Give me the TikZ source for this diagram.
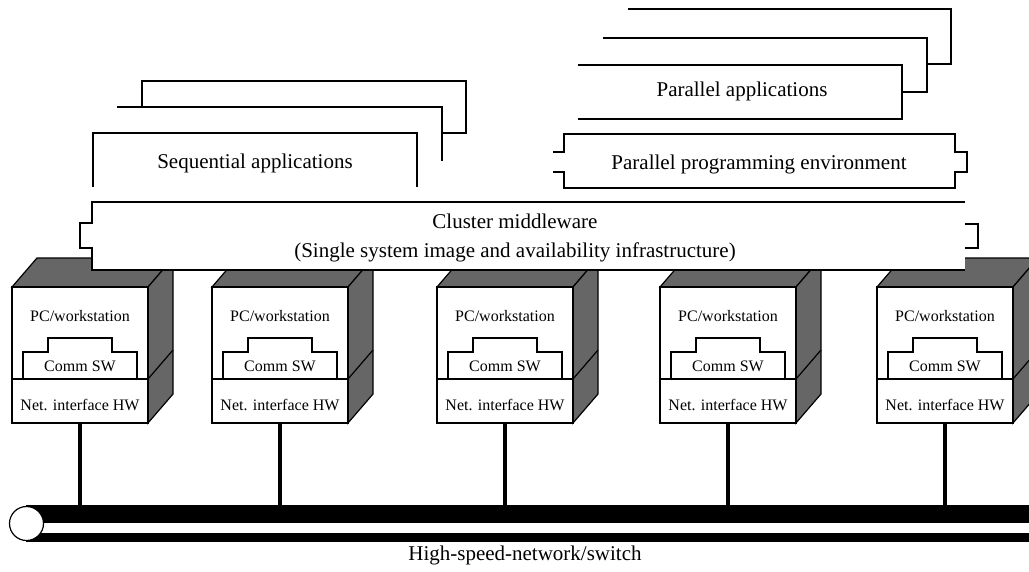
\documentclass[tikz,border=0pt]{standalone}
\usepackage{fontspec}
\setmainfont{Liberation Serif}
\definecolor{facegray}{gray}{0.4}
\begin{document}
\begin{tikzpicture}[x=1pt,y=-1pt,line join=miter,
  outline/.style={draw=black,line width=1.2pt},
  face/.style={outline,fill=facegray},
  big/.style={font=\fontsize{21}{24}\selectfont,inner sep=0pt},
  small/.style={font=\fontsize{16}{18}\selectfont,inner sep=0pt},
  conn/.style={draw=black,line width=3.5pt},
  frontbox/.style={outline,fill=white,minimum width=136pt,minimum height=136pt,inner sep=0pt}]
\clip (0,0) rectangle (1029,571);
% sequential applications stack
\draw[outline] (142,107) -- (142,81) -- (466,81) -- (466,133) -- (442,133);
\draw[outline] (117,107) -- (442,107) -- (442,161);
\draw[outline] (93,187) -- (93,133) -- (417,133) -- (417,187);
\node[big] (seq) at (255,163) {Sequential applications};
% parallel applications stack
\draw[outline] (628,9) -- (951,9) -- (951,64) -- (927,64);
\draw[outline] (603,38) -- (927,38) -- (927,92) -- (902,92);
\draw[outline] (578,65) -- (902,65) -- (902,119) -- (578,119);
\node[big] (par) at (742,91) {Parallel applications};
% parallel programming environment
\draw[outline] (553,152) -- (564,152) -- (564,134) -- (955,134) -- (955,152) -- (967,152)
  -- (967,172) -- (955,172) -- (955,188) -- (564,188) -- (564,172) -- (553,172);
\node[big] (ppe) at (759,164) {Parallel programming environment};
% shaded faces of the computers
\foreach \cx in {80,280,505,728,945} {
  \pgfmathsetmacro\xa{\cx-68}
  \pgfmathsetmacro\xb{\cx+68}
  \filldraw[face] (\xa,287) -- (\xa+25,258) -- (\xb+25,258) -- (\xb,287) -- cycle;
  \filldraw[face] (\xb,287) -- (\xb+25,258) -- (\xb+25,394) -- (\xb,423) -- cycle;
  \draw[outline] (\xb,379) -- (\xb+25,350);
}
% cluster middleware
\fill[white] (92,202) rectangle (965,270);
\fill[white] (80,223) rectangle (92,248);
\fill[white] (965,224) rectangle (978,248);
\draw[outline] (965,202) -- (92,202) -- (92,223) -- (80,223) -- (80,248) -- (92,248) -- (92,270) -- (965,270);
\draw[outline] (965,224) -- (978,224) -- (978,248) -- (965,248);
\node[big] (mw1) at (515,221.5) {Cluster middleware};
\node[big] (mw2) at (515,252.5) {(Single system image and availability infrastructure)};
% network cable
\node[fill=black,inner sep=0pt,minimum width=1010pt,minimum height=37pt,anchor=north west] (cable) at (26,505) {};
\fill[white] (26,523) rectangle (1036,533);
\draw[line width=1.2pt,fill=white] (26.5,523.5) circle (17pt);
\node[big] (net) at (525,555) {High-speed-network/switch};
% front faces of the computers
\foreach \cx [count=\i] in {80,280,505,728,945} {
  \pgfmathsetmacro\xa{\cx-68}
  \pgfmathsetmacro\xb{\cx+68}
  \node[frontbox] (pc\i) at (\cx,355) {};
  \draw[outline] (\xa,379) -- (\xb,379);
  \draw[outline] (\cx-57,379) -- (\cx-57,352) -- (\cx-32,352) -- (\cx-32,338) -- (\cx+32,338)
    -- (\cx+32,352) -- (\cx+57,352) -- (\cx+57,379);
  \node[small] (pcl\i) at (\cx,316) {PC/workstation};
  \node[small] (sw\i) at (\cx,366) {Comm SW};
  \node[small] (nic\i) at (\cx,405) {Net. interface HW};
  \draw[conn] (pc\i.south) -- (pc\i.south |- cable.north);
}
\end{tikzpicture}
\end{document}
